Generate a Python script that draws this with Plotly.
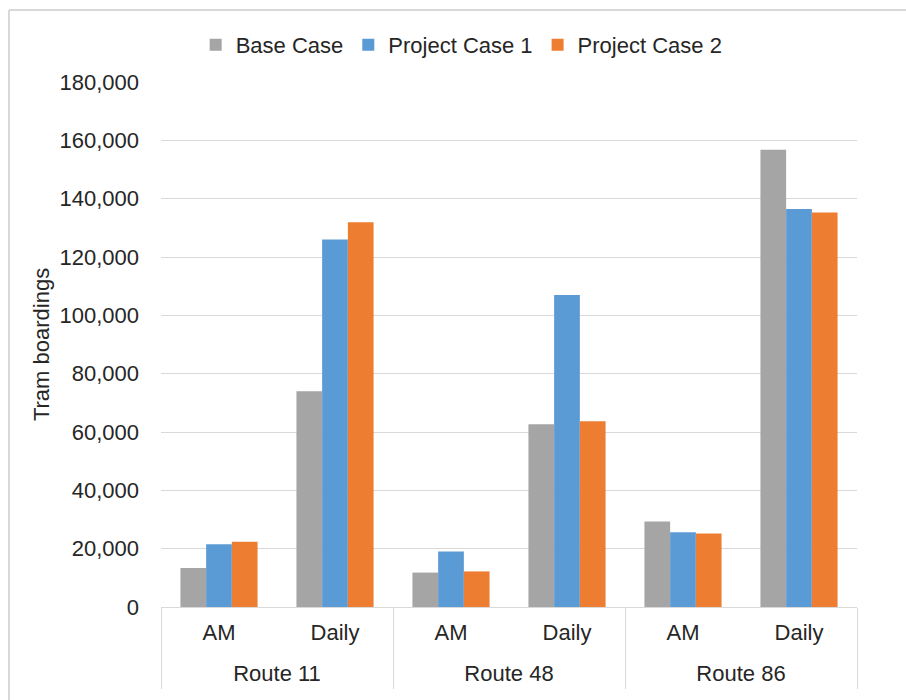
import plotly.graph_objects as go

routes = ["Route 11", "Route 48", "Route 86"]
periods = ["AM", "Daily"]

base_case = [13400, 74000, 11800, 62700, 29300, 156800]
project_case_1 = [21500, 126000, 19000, 107000, 25600, 136500]
project_case_2 = [22400, 131900, 12200, 63700, 25200, 135300]

series = [
    ("Base Case", base_case, "#A5A5A5"),
    ("Project Case 1", project_case_1, "#5B9BD5"),
    ("Project Case 2", project_case_2, "#ED7D31"),
]

# one category per route/period pair, labelled with the period only
cat_keys = [f"{r}|{p}" for r in routes for p in periods]
cat_labels = [p for r in routes for p in periods]

# route labels sit under the middle of each pair of categories
route_centres = [2 * i + 0.5 for i in range(len(routes))]
route_edges = [2 * i - 0.5 for i in range(len(routes) + 1)]

font_family = "Liberation Sans, Arial, sans-serif"
text_color = "#262626"
grid_color = "#D9D9D9"
fs = 22

fig = go.Figure()
for name, values, color in series:
    fig.add_trace(go.Bar(
        x=cat_keys,
        y=values,
        name=name,
        marker=dict(color=color, line=dict(width=0)),
    ))

# carrier trace for the route-label axis
fig.add_trace(go.Scatter(
    x=route_centres, y=[0] * len(routes), xaxis="x2",
    mode="markers", marker=dict(opacity=0),
    showlegend=False, hoverinfo="skip",
))

fig.update_layout(
    width=906,
    height=700,
    margin=dict(l=161, r=49, t=82, b=93),
    paper_bgcolor="white",
    plot_bgcolor="white",
    barmode="group",
    bargap=0.335,
    bargroupgap=0,
    font=dict(family=font_family, size=fs, color=text_color),
    legend=dict(
        orientation="h",
        x=0.432,
        xanchor="center",
        y=1.0705,
        yanchor="middle",
        font=dict(size=fs, color=text_color),
        itemwidth=30,
    ),
    xaxis=dict(
        type="category",
        categoryorder="array",
        categoryarray=cat_keys,
        tickmode="array",
        tickvals=cat_keys,
        ticktext=cat_labels,
        range=[-0.5, len(cat_keys) - 0.5],
        showline=True,
        linecolor=grid_color,
        linewidth=1,
        showgrid=False,
        ticks="",
        ticklabelstandoff=6,
        tickfont=dict(size=fs, color=text_color),
    ),
    xaxis2=dict(
        overlaying="x",
        anchor="y",
        side="bottom",
        range=[-0.5, len(cat_keys) - 0.5],
        tickmode="array",
        tickvals=route_centres,
        ticktext=routes,
        showgrid=False,
        zeroline=False,
        showline=False,
        ticks="",
        ticklabelstandoff=51,
        tickfont=dict(size=fs, color=text_color),
        minor=dict(
            tickmode="array",
            tickvals=route_edges,
            ticks="outside",
            ticklen=81,
            tickwidth=1,
            tickcolor=grid_color,
            showgrid=False,
        ),
    ),
    yaxis=dict(
        range=[0, 180000],
        dtick=20000,
        tickformat=",d",
        showgrid=True,
        gridcolor=grid_color,
        gridwidth=1,
        zeroline=False,
        showline=False,
        ticks="",
        ticklabelstandoff=21,
        tickfont=dict(size=fs, color=text_color),
        title=dict(text="Tram boardings", font=dict(size=fs, color=text_color), standoff=3),
    ),
)

# light grey frame edges along the top and left of the chart
px_x = lambda px: (px - 161) / 696
px_y = lambda py: (607 - py) / 525
frame = dict(color="#D9D9D9", width=2)
fig.add_shape(type="line", xref="paper", yref="paper",
              x0=px_x(9), x1=px_x(910), y0=px_y(10), y1=px_y(10), line=frame)
fig.add_shape(type="line", xref="paper", yref="paper",
              x0=px_x(9), x1=px_x(9), y0=px_y(10), y1=px_y(705), line=frame)

fig.write_html("out.html")
